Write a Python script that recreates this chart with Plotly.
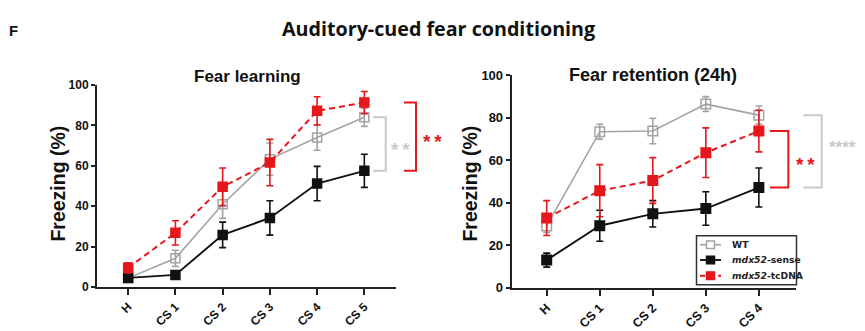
import plotly.graph_objects as go

# ---- data -------------------------------------------------------------
learn_labels = ["H", "CS 1", "CS 2", "CS 3", "CS 4", "CS 5"]
learn_wt = [4.4, 14.2, 41.0, 63.3, 74.0, 84.0]
learn_wt_err = [1.5, 4.0, 7.0, 8.0, 6.3, 4.5]
learn_sense = [4.5, 6.0, 25.8, 34.2, 51.2, 57.5]
learn_sense_err = [1.0, 2.0, 6.3, 8.5, 8.5, 8.2]
learn_tc = [9.5, 26.8, 49.6, 61.6, 87.2, 91.3]
learn_tc_err = [2.5, 6.0, 9.3, 11.5, 7.0, 5.5]

ret_labels = ["H", "CS 1", "CS 2", "CS 3", "CS 4"]
ret_wt = [29.1, 73.5, 73.8, 86.5, 81.3]
ret_wt_err = [3.0, 3.5, 6.0, 3.5, 4.3]
ret_sense = [13.0, 29.2, 34.8, 37.3, 47.2]
ret_sense_err = [3.3, 7.3, 6.2, 7.9, 9.2]
ret_tc = [32.8, 45.7, 50.5, 63.6, 73.8]
ret_tc_err = [8.2, 12.3, 10.8, 11.7, 9.8]

group_names = ["WT", "<i>mdx52</i>-sense", "<i>mdx52</i>-tcDNA"]

# ---- styles -----------------------------------------------------------
W, H = 865, 331
GRAY = "#a3a3a3"
BLACK = "#111111"
RED = "#e5161c"
LIGHT = "#c9c9c9"
FONT = "Arial, Liberation Sans, sans-serif"
THIN = "\u2009"

styles = [
    (GRAY, "square-open", "solid", 1.6),
    (BLACK, "square", "solid", 1.9),
    (RED, "square", "6px,4px", 2.0),
]

fig = go.Figure()


def add_panel(groups, xa, ya, msize):
    for name, (col, sym, dash, lw), (vals, errs) in zip(group_names, styles, groups):
        fig.add_trace(go.Scatter(
            x=list(range(len(vals))), y=vals, name=name, xaxis=xa, yaxis=ya,
            mode="lines+markers", showlegend=False,
            line=dict(color=col, width=lw, dash=dash),
            marker=dict(symbol=sym, size=msize, color=col,
                        line=dict(color=col, width=1.5)),
            error_y=dict(type="data", array=errs, visible=True,
                         color=col, thickness=1.6, width=3.5),
        ))


add_panel([(learn_wt, learn_wt_err), (learn_sense, learn_sense_err),
           (learn_tc, learn_tc_err)], "x", "y", 9)
add_panel([(ret_wt, ret_wt_err), (ret_sense, ret_sense_err),
           (ret_tc, ret_tc_err)], "x2", "y2", 9.5)


def xaxis(labels, dom, rng, fs):
    return dict(domain=dom, range=rng, tickvals=list(range(len(labels))),
                ticktext=labels, tickangle=-45, showgrid=False,
                zeroline=False, showline=True, linecolor="#222",
                linewidth=2, ticks="outside", ticklen=6, tickwidth=1.6,
                tickcolor="#222",
                tickfont=dict(family=FONT, size=fs, color="#111", weight="bold"))


def yaxis(dom, anchor, fs):
    return dict(domain=dom, range=[0, 100], anchor=anchor,
                tickvals=[0, 20, 40, 60, 80, 100], showgrid=False,
                zeroline=False, showline=True, linecolor="#222",
                linewidth=2, ticks="outside", ticklen=4, tickwidth=1.6,
                tickcolor="#222",
                tickfont=dict(family=FONT, size=fs, color="#111", weight="bold"))


fig.update_layout(
    width=W, height=H, margin=dict(l=0, r=0, t=0, b=0),
    paper_bgcolor="white", plot_bgcolor="white", showlegend=False,
    xaxis=dict(anchor="y", **xaxis(learn_labels, [97 / W, 396 / W], [-0.66, 5.67], 12)),
    yaxis=yaxis([1 - 293.3 / H, 1 - 81.7 / H], "x", 12),
    xaxis2=dict(anchor="y2", **xaxis(ret_labels, [511.7 / W, 796 / W], [-0.66, 4.70], 12.5)),
    yaxis2=yaxis([1 - 294 / H, 1 - 71.7 / H], "x2", 13),
)

# significance brackets: top at group mean, bottom at sense mean (last point)
brackets = [
    ("y", learn_wt[-1], learn_sense[-1], 373, 385.7, LIGHT, 2, THIN, 19, 400, "center", 0),
    ("y", learn_tc[-1], learn_sense[-1], 404, 416, RED, 2, THIN, 19, 432, "center", 0),
    ("y2", ret_tc[-1], ret_sense[-1], 770, 788.3, RED, 2, THIN, 19, 805, "center", 0),
    ("y2", ret_wt[-1], ret_sense[-1], 803.3, 821.7, LIGHT, 4, "", 17, 827, "left", 9),
]
for yref, top, bot, x0, x1, col, n_stars, gap, fs, tx, anchor, dy in brackets:
    fig.add_shape(type="path", xref="paper", yref=yref,
                  path=f"M {x0 / W},{top} L {x1 / W},{top} L {x1 / W},{bot} L {x0 / W},{bot}",
                  line=dict(color=col, width=2))
    fig.add_annotation(x=tx / W, xref="paper", y=(top + bot) / 2, yref=yref,
                       text=gap.join("*" * n_stars), showarrow=False,
                       xanchor=anchor, yanchor="middle", yshift=-5 + dy,
                       font=dict(family=FONT, size=fs, color=col, weight="bold"))


def px(x):
    return x / W


def py(y):
    return 1 - y / H


# legend box (right panel)
fig.add_shape(type="rect", xref="paper", yref="paper",
              x0=px(696.5), x1=px(796.5), y0=py(291), y1=py(239.5),
              line=dict(color="#333", width=1.5), fillcolor="white")
legend_rows = [249, 265, 281.5]
for name, (col, sym, dash, lw), ly in zip(group_names, styles, legend_rows):
    fig.add_shape(type="line", xref="paper", yref="paper",
                  x0=px(700), x1=px(721), y0=py(ly), y1=py(ly),
                  line=dict(color=col, width=lw, dash=dash if dash == "solid" else "5px,4px"))
    fig.add_shape(type="rect", xref="paper", yref="paper",
                  x0=px(706.5), x1=px(714.5), y0=py(ly + 4), y1=py(ly - 4),
                  line=dict(color=col, width=1.5),
                  fillcolor="white" if sym.endswith("open") else col)
    fig.add_annotation(x=px(730), y=py(ly), xref="paper", yref="paper",
                       text=name, showarrow=False, xanchor="left",
                       yanchor="middle",
                       font=dict(family="DejaVu Sans, sans-serif", size=9.2,
                                 color="#222", weight="bold"))

texts = [
    ("F", 14, 25, 15, 0, "bold", FONT),
    ("Auditory-cued fear conditioning", 438, 22, 19.7, 0, "bold", "Open Sans, sans-serif"),
    ("Fear learning", 247, 73, 17, 0, "bold", FONT),
    ("Fear retention (24h)", 653, 71, 18, 0, "bold", FONT),
    ("Freezing (%)", 58, 185, 19.5, -90, "bold", FONT),
    ("Freezing (%)", 470, 185, 19.5, -90, "bold", FONT),
]
for t, x, y, sz, ang, wt, fam in texts:
    fig.add_annotation(x=px(x), y=py(y), xref="paper", yref="paper",
                       text=t, showarrow=False, textangle=ang,
                       xanchor="center", yanchor="middle",
                       font=dict(family=fam, size=sz, color="#111", weight=wt))

fig.write_html("out.html")
